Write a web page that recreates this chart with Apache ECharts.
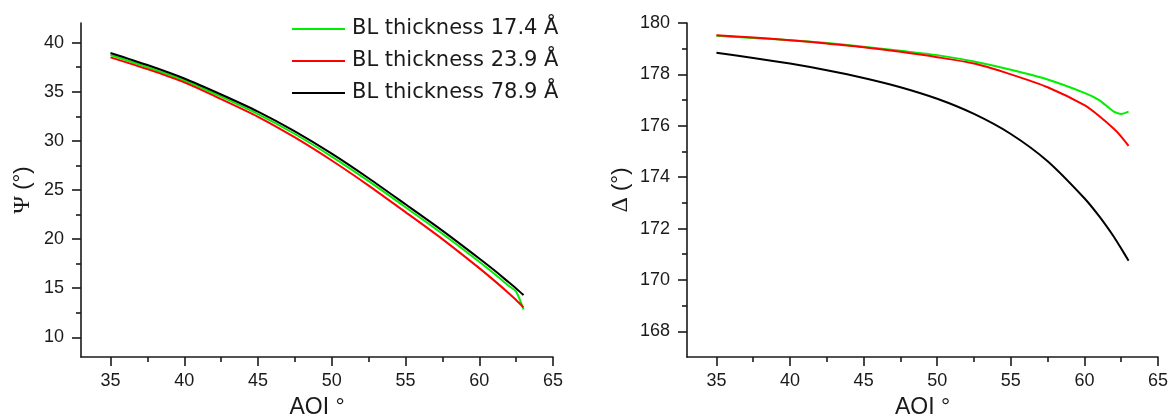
<!DOCTYPE html>
<html>
<head>
<meta charset="utf-8">
<title>Psi and Delta vs AOI</title>
<script src="https://cdn.jsdelivr.net/npm/echarts@6/dist/echarts.min.js"></script>
<style>
  html, body { margin: 0; padding: 0; background: #ffffff; }
  #chart { width: 1169px; height: 418px; }
</style>
</head>
<body>
<div id="chart"></div>
<script>
// Angle of incidence (degrees)
const aoi = [35, 37.5, 40, 42.5, 45, 47.5, 50, 52.5, 55, 57.5, 60, 61, 62, 62.5, 63];

// Series names
const seriesNames = ['BL thickness 17.4 Å', 'BL thickness 23.9 Å', 'BL thickness 78.9 Å'];
const seriesColors = ['#00ee00', '#ff0000', '#000000'];

// Psi (deg) for each boundary-layer thickness
const psi174 = [38.75, 37.5, 36.15, 34.5, 32.72, 30.7, 28.4, 25.9, 23.25, 20.55, 17.7, 16.5, 15.25, 14.65, 12.85];
const psi239 = [38.5, 37.3, 35.95, 34.25, 32.45, 30.35, 28.0, 25.45, 22.75, 20.0, 17.05, 15.8, 14.5, 13.8, 13.05];
const psi789 = [38.95, 37.72, 36.35, 34.72, 32.98, 30.97, 28.7, 26.2, 23.55, 20.87, 18.03, 16.85, 15.6, 14.98, 14.3];

// Delta (deg) for each boundary-layer thickness
const delta174 = [179.5, 179.42, 179.33, 179.22, 179.08, 178.92, 178.75, 178.5, 178.18, 177.8, 177.28, 177.0, 176.55, 176.46, 176.55];
const delta239 = [179.52, 179.44, 179.33, 179.2, 179.06, 178.88, 178.67, 178.42, 178.0, 177.5, 176.8, 176.38, 175.88, 175.58, 175.22];
const delta789 = [178.84, 178.64, 178.42, 178.16, 177.86, 177.5, 177.05, 176.46, 175.68, 174.62, 173.18, 172.48, 171.68, 171.22, 170.75];

// Tick positions
const xMajorTicks = [35, 40, 45, 50, 55, 60, 65];
const xMinorTicks = [37.5, 42.5, 47.5, 52.5, 57.5, 62.5];
const psiMajorTicks = [10, 15, 20, 25, 30, 35, 40];
const psiMinorTicks = [12.5, 17.5, 22.5, 27.5, 32.5, 37.5];
const deltaMajorTicks = [168, 170, 172, 174, 176, 178, 180];
const deltaMinorTicks = [169, 171, 173, 175, 177, 179];

const axisColor = '#1a1a1a';
const labelFont = { fontFamily: 'Liberation Sans, Arial, sans-serif', fontSize: 18, color: '#1a1a1a' };

function pairs(ys) { return aoi.map((x, i) => [x, ys[i]]); }

// An extra axis on the same edge that only draws tick marks
function tickAxis(gridIndex, position, min, max, values, length) {
  return {
    type: 'value', gridIndex, position, offset: 0, min, max,
    axisLine: { show: false, onZero: false },
    axisTick: { show: true, inside: false, length, customValues: values, lineStyle: { color: axisColor, width: 1.6 } },
    axisLabel: { show: false },
    splitLine: { show: false }
  };
}

function xAxes(gridIndex) {
  return [
    {
      type: 'value', gridIndex, position: 'bottom', min: 33, max: 65,
      name: 'AOI °', nameLocation: 'middle', nameGap: 39,
      nameTextStyle: { fontFamily: 'Liberation Sans, Arial, sans-serif', fontSize: 23, color: '#1a1a1a' },
      axisLine: { show: true, onZero: false, lineStyle: { color: axisColor, width: 1.6 } },
      axisTick: { show: false },
      axisLabel: Object.assign({ show: true, margin: 15, customValues: xMajorTicks }, labelFont),
      splitLine: { show: false }
    },
    tickAxis(gridIndex, 'bottom', 33, 65, xMajorTicks, 9),
    tickAxis(gridIndex, 'bottom', 33, 65, xMinorTicks, 5)
  ];
}

function yAxes(gridIndex, min, max, major, minor, nameRich, nameGap) {
  return [
    {
      type: 'value', gridIndex, position: 'left', min, max,
      name: nameRich, nameLocation: 'middle', nameGap, nameRotate: 90,
      nameTextStyle: {
        fontFamily: 'Liberation Sans, Arial, sans-serif', fontSize: 22, color: '#1a1a1a',
        rich: { g: { fontFamily: 'Liberation Serif, Times New Roman, serif', fontSize: 24, color: '#1a1a1a' } }
      },
      axisLine: { show: true, onZero: false, lineStyle: { color: axisColor, width: 1.6 } },
      axisTick: { show: false },
      axisLabel: Object.assign({ show: true, margin: 17, customValues: major }, labelFont),
      splitLine: { show: false }
    },
    tickAxis(gridIndex, 'left', min, max, major, 9),
    tickAxis(gridIndex, 'left', min, max, minor, 5)
  ];
}

function line(name, color, data, xi, yi) {
  return {
    type: 'line', name, data: pairs(data), xAxisIndex: xi, yAxisIndex: yi,
    symbol: 'none', smooth: 0.25, lineStyle: { color, width: 2 }, itemStyle: { color },
    animation: false
  };
}

const chart = echarts.init(document.getElementById('chart'), null, { renderer: 'canvas' });
chart.setOption({
  backgroundColor: '#ffffff',
  animation: false,
  grid: [
    { left: 81, right: 616, top: 23, bottom: 61, containLabel: false, outerBoundsMode: 'none' },
    { left: 687, right: 11, top: 23, bottom: 61, containLabel: false, outerBoundsMode: 'none' }
  ],
  legend: {
    data: seriesNames,
    orient: 'vertical',
    left: 287, top: 13,
    itemWidth: 53, itemHeight: 2, itemGap: 10,
    textStyle: { fontFamily: 'DejaVu Sans, Verdana, sans-serif', fontSize: 21, color: '#1a1a1a', lineHeight: 22, padding: [0, 0, 0, 2] },
    icon: 'rect'
  },
  xAxis: [...xAxes(0), ...xAxes(1)],
  yAxis: [
    ...yAxes(0, 8, 42, psiMajorTicks, psiMinorTicks, '{g|Ψ} (°)', 46),
    ...yAxes(1, 167, 180, deltaMajorTicks, deltaMinorTicks, '{g|Δ} (°)', 54)
  ],
  series: [
    line(seriesNames[0], seriesColors[0], psi174, 0, 0),
    line(seriesNames[1], seriesColors[1], psi239, 0, 0),
    line(seriesNames[2], seriesColors[2], psi789, 0, 0),
    line(seriesNames[0], seriesColors[0], delta174, 3, 3),
    line(seriesNames[1], seriesColors[1], delta239, 3, 3),
    line(seriesNames[2], seriesColors[2], delta789, 3, 3)
  ]
});
</script>
</body>
</html>
